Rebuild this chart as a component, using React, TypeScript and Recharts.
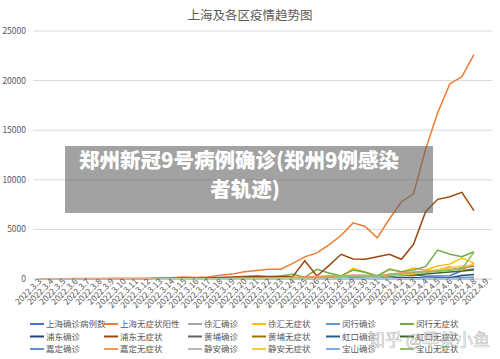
import React from "react";
import { LineChart, Line, XAxis, YAxis, CartesianGrid } from "recharts";

const dates = [
  "2022.3.3","2022.3.4","2022.3.5","2022.3.6","2022.3.7","2022.3.8","2022.3.9","2022.3.10",
  "2022.3.11","2022.3.12","2022.3.13","2022.3.14","2022.3.15","2022.3.16","2022.3.17","2022.3.18",
  "2022.3.19","2022.3.20","2022.3.21","2022.3.22","2022.3.23","2022.3.24","2022.3.25","2022.3.26",
  "2022.3.27","2022.3.28","2022.3.29","2022.3.30","2022.3.31","2022.4.1","2022.4.2","2022.4.3",
  "2022.4.4","2022.4.5","2022.4.6","2022.4.7","2022.4.8","2022.4.9",
];

const yTicks = [0, 5000, 10000, 15000, 20000, 25000];

const N = null;
const pre = [N, N, N, N, N, N, N, N, N, N];

const shConfirmed = [3,2,0,3,3,3,4,11,5,1,41,9,5,8,57,8,17,24,31,4,4,29,38,45,50,96,326,355,358,260,438,425,268,311,322,824,1015,N];
const shAsym = [2,16,28,50,45,62,76,64,78,64,128,130,197,150,203,366,492,734,865,977,979,1580,2231,2631,3450,4381,5656,5298,4144,6051,7788,8581,13086,16766,19660,20398,22609,N];
const xuhuiConfirmed = [...pre,1,1,0,1,3,1,2,2,3,0,0,2,3,3,5,8,20,25,25,20,30,30,20,25,30,60,80,N];
const xuhuiAsym = [...pre,5,5,10,5,20,30,40,50,60,80,100,150,200,200,300,200,1080,700,250,1000,700,1100,900,1300,1500,2100,1600,N];
const minhangConfirmed = [...pre,1,1,1,1,5,1,2,3,5,1,1,3,5,5,8,10,50,60,60,40,70,60,40,50,60,150,200,N];
const minhangAsym = [...pre,10,20,30,20,40,60,80,100,150,200,300,470,170,980,600,300,900,670,300,980,740,900,1240,2920,2490,2250,2750,N];
const pudongConfirmed = [...pre,3,2,1,2,20,3,5,6,8,1,1,5,8,10,12,20,80,90,100,60,150,150,80,100,120,350,450,N];
const pudongAsym = [...pre,30,50,80,60,100,150,200,250,300,250,250,230,1840,300,1350,2490,2010,1990,2250,2490,1990,3500,6790,8030,8300,8740,6890,N];
const huangpuConfirmed = [...pre,0,1,0,1,2,1,1,2,2,0,0,1,2,3,4,5,15,18,20,15,25,25,15,20,25,50,60,N];
const huangpuAsym = [...pre,2,2,3,5,10,10,20,30,30,40,50,60,100,120,150,200,300,250,200,400,500,600,700,800,900,1100,1300,N];
const hongkouConfirmed = [...pre,0,0,1,0,2,1,1,1,2,0,0,1,2,2,3,4,10,12,14,10,18,20,12,15,20,40,50,N];
const hongkouAsym = [...pre,1,2,3,2,5,10,10,20,20,30,40,50,60,80,100,150,200,180,150,300,350,400,500,600,700,800,900,N];
const jiadingConfirmed = [...pre,1,0,1,1,3,1,2,2,3,1,1,2,3,4,6,8,25,30,30,25,40,35,25,30,40,80,100,N];
const jiadingAsym = [...pre,5,5,10,10,20,30,40,60,80,100,100,150,200,250,300,300,400,350,300,500,600,700,800,900,1240,900,1580,N];
const jinganConfirmed = [...pre,0,1,0,1,2,0,1,1,2,0,0,1,2,2,3,5,12,14,15,12,20,22,14,18,22,45,55,N];
const jinganAsym = [...pre,1,2,2,3,5,10,10,20,20,30,40,50,60,80,100,150,250,200,150,350,400,500,700,900,1100,1300,1400,N];
const baoshanConfirmed = [...pre,0,0,1,1,2,1,1,2,2,0,0,1,2,3,4,6,15,18,20,15,25,28,18,22,28,55,70,N];
const baoshanAsym = [...pre,2,3,5,5,10,10,20,20,30,40,50,60,80,100,150,200,300,250,200,400,500,600,700,800,900,1000,2700,N];

const seriesNames = [
  "上海确诊病例数","上海无症状阳性","徐汇确诊","徐汇无症状","闵行确诊","闵行无症状",
  "浦东确诊","浦东无症状","黄埔确诊","黄埔无症状","虹口确诊","虹口无症状",
  "嘉定确诊","嘉定无症状","静安确诊","静安无症状","宝山确诊","宝山无症状",
];
const seriesValues = [
  shConfirmed, shAsym, xuhuiConfirmed, xuhuiAsym, minhangConfirmed, minhangAsym,
  pudongConfirmed, pudongAsym, huangpuConfirmed, huangpuAsym, hongkouConfirmed, hongkouAsym,
  jiadingConfirmed, jiadingAsym, jinganConfirmed, jinganAsym, baoshanConfirmed, baoshanAsym,
];
const colors = [
  "#4472C4","#ED7D31","#A5A5A5","#FFC000","#5B9BD5","#70AD47",
  "#264478","#9E480E","#636363","#997300","#255E91","#43682B",
  "#698ED0","#F1975A","#B7B7B7","#FFCD33","#7CAFDD","#8CC168",
];

const data = dates.map((d, i) => {
  const row: Record<string, any> = { date: d };
  seriesValues.forEach((arr, k) => { row["s" + k] = arr[i]; });
  return row;
});

const FONT = '"Noto Sans CJK SC", "Noto Sans", sans-serif';
const legendCols = [30, 104, 188, 252, 326, 400];
const legendRows = [324, 336.5, 349];

const XTick = (props: any) => {
  const { x, y, payload } = props;
  const tx = x + 3, ty = y + 3;
  return (
    <text x={tx} y={ty} transform={`rotate(-45 ${tx} ${ty})`} textAnchor="end"
      fontSize={8.5} fill="#595959" fontFamily={FONT}>{payload.value}</text>
  );
};

export default function App() {
  return (
    <div style={{ position: "absolute", left: 0, top: 0, width: 500, height: 359, background: "#fff", fontFamily: FONT }}>
      <LineChart width={500} height={359} data={data} margin={{ top: 31, right: 8, left: 0, bottom: 0 }}>
        <CartesianGrid vertical={false} stroke="#d9d9d9" />
        <XAxis dataKey="date" interval={0} height={80} padding={{ left: 6, right: 6 }}
          tickLine={false} axisLine={{ stroke: "#d9d9d9" }} tick={<XTick />} tickSize={0} tickMargin={0} />
        <YAxis width={33} domain={[0, 25000]} ticks={yTicks} axisLine={false} tickLine={false}
          tickMargin={1} tick={{ fontSize: 8.5, fill: "#595959", fontFamily: FONT }} />
        {seriesNames.map((n, k) => (
          <Line key={n} dataKey={"s" + k} name={n} stroke={colors[k]} strokeWidth={1.5}
            dot={false} isAnimationActive={false} connectNulls={false} />
        ))}
      </LineChart>
      <div style={{ position: "absolute", left: 0, top: 6, width: 500, textAlign: "center", fontSize: 12.5, color: "#595959", lineHeight: "18px" }}>
        上海及各区疫情趋势图
      </div>
      <svg width={500} height={359} style={{ position: "absolute", left: 0, top: 0 }}>
        {seriesNames.map((n, k) => {
          const cx = legendCols[k % 6];
          const cy = legendRows[Math.floor(k / 6)];
          return (
            <g key={n}>
              <line x1={cx} x2={cx + 14} y1={cy} y2={cy} stroke={colors[k]} strokeWidth={2} />
              <text x={cx + 16} y={cy + 3} fontSize={8.5} fill="#595959" fontFamily={FONT}>{n}</text>
            </g>
          );
        })}
        <rect x={65} y={146} width={368} height={67} fill="rgba(100,100,100,0.6)" />
        <text x={239} y={168} textAnchor="middle" fontSize={20.5} fontWeight={900} fill="#fff" fontFamily={FONT}>郑州新冠9号病例确诊(郑州9例感染</text>
        <text x={245} y={197} textAnchor="middle" fontSize={20.5} fontWeight={900} fill="#fff" fontFamily={FONT}>者轨迹)</text>
        <text x={368} y={346} fontSize={17} fill="rgba(255,255,255,0.55)" stroke="rgba(110,110,110,0.55)" strokeWidth={0.6} fontFamily={FONT}>知乎 @早茶小鱼</text>
      </svg>
    </div>
  );
}
